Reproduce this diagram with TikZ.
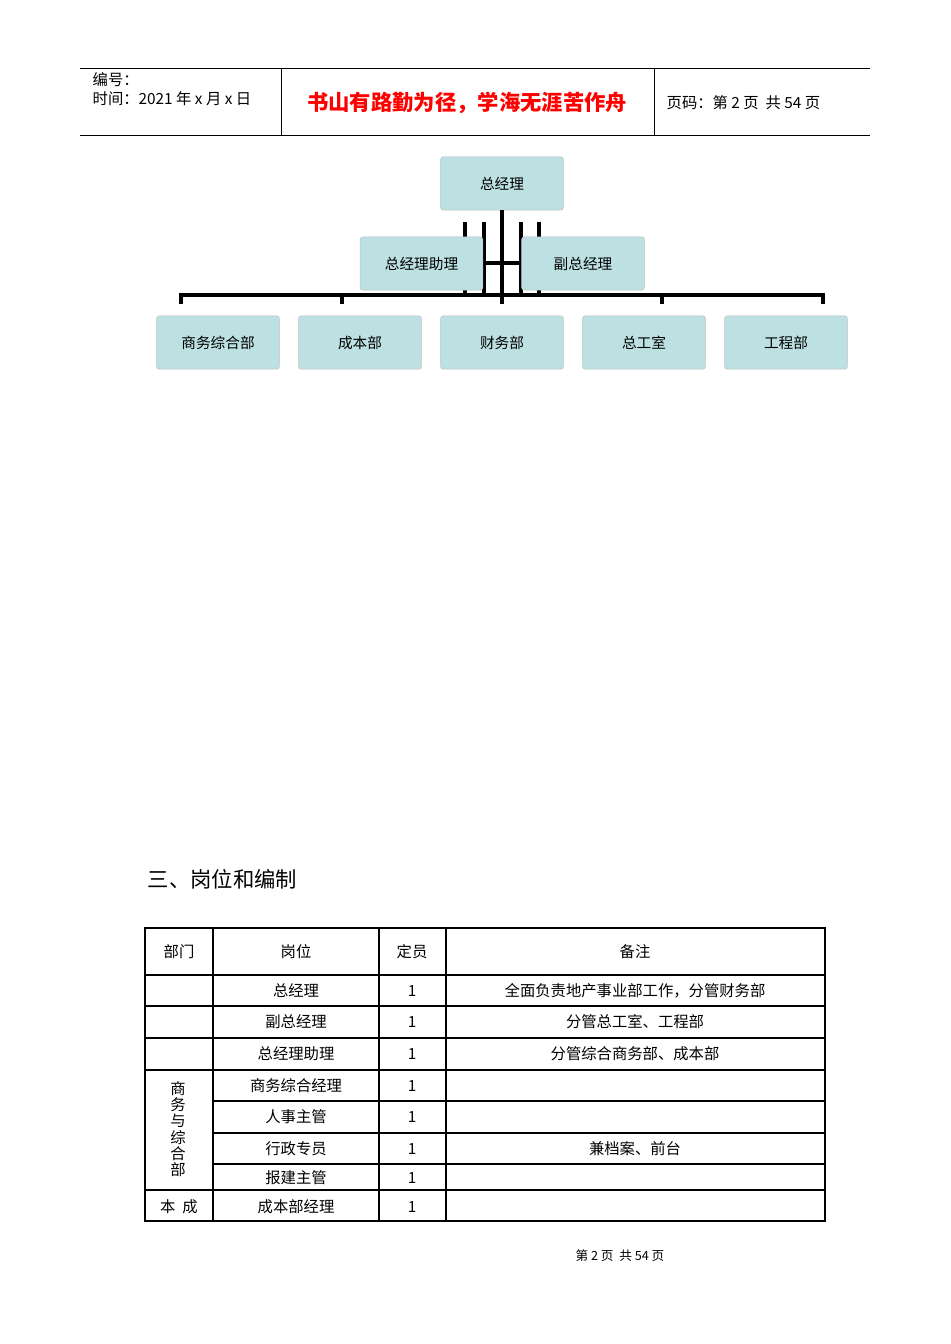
\documentclass[tikz,border=0pt]{standalone}
\usepackage{fontspec}
\setmainfont{Noto Sans CJK SC}
\definecolor{boxfill}{RGB}{189,224,226}
\begin{document}
\begin{tikzpicture}[x=0.75pt,y=-0.75pt,
  box/.style={draw=black!25,fill=boxfill,rounded corners=2pt,inner sep=0pt,font=\fontsize{11}{12}\selectfont},
  conn/.style={line width=2.6pt},
  cell/.style={font=\fontsize{11.5}{12}\selectfont,inner sep=0pt}]
\useasboundingbox[fill=white] (0,0) rectangle (950,1344);
% header
\draw[line width=0.6pt] (80,68) -- (870,68) (80,135) -- (870,135) (281,68) -- (281,135) (654,68) -- (654,135);
\node[anchor=west,font=\fontsize{11.5}{12}\selectfont] (h1) at (88,80) {编号：};
\node[anchor=west,font=\fontsize{11.5}{12}\selectfont] (h2) at (88,99) {时间：2021 年 x 月 x 日};
\node[font=\fontsize{16}{17}\selectfont\bfseries,text=red] (h3) at (467,103) {书山有路勤为径，学海无涯苦作舟};
\node[anchor=west,font=\fontsize{11.5}{12}\selectfont] (h4) at (662,103) {页码：第 2 页\ \ 共 54 页};
% connectors (behind boxes)
\coordinate (c0) at (502,304);
\draw[conn] (502,210) -- (c0);
\draw[conn] (181,304) -- (181,295) -- (823,295) -- (823,304);
\foreach \x in {342,662} \draw[conn] (\x,295) -- (\x,304);
\draw[conn] (465,222) -- (465,295) (539,222) -- (539,295);
\draw[conn] (484,222) -- (484,295) (521,222) -- (521,295) (484,263) -- (521,263);
% boxes
\node[box,minimum width=92pt,minimum height=40pt] (gm) at (502,183.5) {总经理};
\node[box,minimum width=92pt,minimum height=40pt] (as) at (421.5,263.5) {总经理助理};
\node[box,minimum width=92pt,minimum height=40pt] (vg) at (583,263.5) {副总经理};
\node[box,minimum width=92pt,minimum height=40pt] (b1) at (218,342.5) {商务综合部};
\node[box,minimum width=92pt,minimum height=40pt] (b2) at (360,342.5) {成本部};
\node[box,minimum width=92pt,minimum height=40pt] (b3) at (502,342.5) {财务部};
\node[box,minimum width=92pt,minimum height=40pt] (b4) at (644,342.5) {总工室};
\node[box,minimum width=92pt,minimum height=40pt] (b5) at (786,342.5) {工程部};
\draw[conn] (gm.south) -- (c0);
% title
\node[anchor=west,font=\fontsize{16}{17}\selectfont] (t) at (143,879) {三、岗位和编制};
% table
\draw[line width=0.8pt] (145,928) rectangle (825,1221);
\draw[line width=1.6pt] (145,928) -- (825,928) (825,928) -- (825,1221) (145,975) -- (825,975);
\foreach \x in {213,379,446} \draw[line width=0.8pt] (\x,928) -- (\x,1221);
\foreach \y in {1006,1038,1070,1190} \draw[line width=0.8pt] (145,\y) -- (825,\y);
\foreach \y in {1101,1133,1164} \draw[line width=0.8pt] (213,\y) -- (825,\y);
\node[cell] (k1) at (179,952) {部门};
\node[cell] (k2) at (296,952) {岗位};
\node[cell] (k3) at (412,952) {定员};
\node[cell] (k4) at (635,952) {备注};
\foreach \y/\p/\r in {991/总经理/全面负责地产事业部工作，分管财务部,1022/副总经理/分管总工室、工程部,1054/总经理助理/分管综合商务部、成本部,1086/商务综合经理/,1117/人事主管/,1149/行政专员/兼档案、前台,1178/报建主管/,1207/成本部经理/}{
  \node[cell] at (296,\y) {\p};
  \node[cell] at (412,\y) {1};
  \node[cell] at (635,\y) {\r};
}
\node[cell,align=center,font=\fontsize{11.5}{12.2}\selectfont] (d1) at (178,1129) {商\\务\\与\\综\\合\\部};
\node[cell] (d2) at (179,1207) {本\ \ 成};
% footer
\node[font=\fontsize{9.5}{10}\selectfont] (f) at (620,1256) {第\ 2\ 页\ \ 共\ 54\ 页};
\end{tikzpicture}
\end{document}
